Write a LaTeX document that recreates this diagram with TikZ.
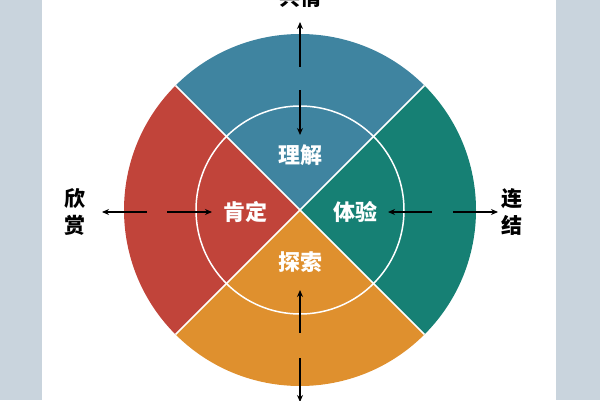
\documentclass[tikz,border=0pt]{standalone}
\usepackage{fontspec}
\setmainfont{Noto Sans CJK SC}
\usetikzlibrary{arrows.meta}
\definecolor{sideColor}{HTML}{C9D4DD}
\definecolor{topColor}{HTML}{3F84A0}
\definecolor{rightColor}{HTML}{168074}
\definecolor{bottomColor}{HTML}{DF902E}
\definecolor{leftColor}{HTML}{C1443A}
\tikzset{>={Stealth[length=7pt,width=6pt]},
  link/.style={<-,line width=1.5pt},
  inlabel/.style={text=white,font=\fontsize{22}{24}\selectfont\bfseries},
  outlabel/.style={font=\fontsize{21}{27}\selectfont\bfseries,align=center}}
\begin{document}
\begin{tikzpicture}[x=1pt,y=1pt]
  \clip (0,0) rectangle (600,400);
  \useasboundingbox (0,0) rectangle (600,400);
  \fill[sideColor] (0,0) rectangle (42,400);
  \fill[sideColor] (556,0) rectangle (600,400);
  \coordinate (O) at (300,190);
  % four sectors
  \fill[topColor] (O) -- ++(45:176) arc (45:135:176) -- cycle;
  \fill[leftColor] (O) -- ++(135:176) arc (135:225:176) -- cycle;
  \fill[bottomColor] (O) -- ++(225:176) arc (225:315:176) -- cycle;
  \fill[rightColor] (O) -- ++(315:176) arc (315:405:176) -- cycle;
  \draw[white,line width=1.5pt] (O) circle (104);
  \draw[white,line width=1.5pt] (O) ++(45:176) -- ++(225:352);
  \draw[white,line width=1.5pt] (O) ++(135:176) -- ++(315:352);
  % inner labels
  \node[inlabel] (understand) at (300,245) {理解};
  \node[inlabel] (affirm) at (245,188) {肯定};
  \node[inlabel] (experience) at (355,188) {体验};
  \node[inlabel] (explore) at (300,138) {探索};
  % outer labels
  \node[outlabel] (empathy) at (300,402) {共情};
  \node[outlabel] (appreciate) at (75,188) {欣\\赏};
  \node[outlabel] (connect) at (512,188) {连\\结};
  % arrows
  \coordinate (t1) at (300,378); \coordinate (t2) at (300,333);
  \coordinate (t3) at (300,310); \coordinate (t4) at (300,265);
  \draw[link] (t1) -- (t2);
  \draw[link] (t4) -- (t3);
  \coordinate (l1) at (102,188); \coordinate (l2) at (147,188);
  \coordinate (l3) at (167,188); \coordinate (l4) at (212,188);
  \draw[link] (l1) -- (l2);
  \draw[link] (l4) -- (l3);
  \coordinate (r1) at (388,188); \coordinate (r2) at (432,188);
  \coordinate (r3) at (453,188); \coordinate (r4) at (498,188);
  \draw[link] (r1) -- (r2);
  \draw[link] (r4) -- (r3);
  \coordinate (b1) at (300,110); \coordinate (b2) at (300,67);
  \coordinate (b3) at (300,42); \coordinate (b4) at (300,-2);
  \draw[link] (b1) -- (b2);
  \draw[link] (b4) -- (b3);
\end{tikzpicture}
\end{document}
